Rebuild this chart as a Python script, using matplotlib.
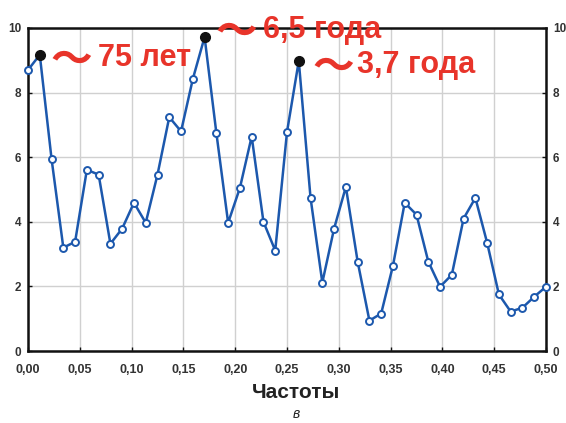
import numpy as np
import matplotlib
matplotlib.use("Agg")
import matplotlib.pyplot as plt
from matplotlib.ticker import FuncFormatter

# ---- data ----
n_points = 45
freq_max = 0.5
power = [8.70, 9.17, 5.95, 3.20, 3.38, 5.61, 5.46, 3.32, 3.79, 4.59,
         3.97, 5.46, 7.24, 6.80, 8.42, 9.72, 6.75, 3.97, 5.05, 6.64,
         4.00, 3.11, 6.78, 8.98, 4.74, 2.12, 3.79, 5.08, 2.77, 0.94,
         1.16, 2.64, 4.59, 4.22, 2.77, 1.99, 2.36, 4.10, 4.74, 3.35,
         1.75, 1.22, 1.34, 1.68, 1.99]
freqs = [k * freq_max / (n_points - 1) for k in range(n_points)]
peak_idx = [1, 15, 23]
peak_labels = ["75 лет", "6,5 года", "3,7 года"]
xticks = [0.0, 0.05, 0.10, 0.15, 0.20, 0.25, 0.30, 0.35, 0.40, 0.45, 0.50]
yticks = [0, 2, 4, 6, 8, 10]

blue = "#1c58ad"
red = "#e8342a"

fig = plt.figure(figsize=(5.66, 4.23), dpi=100)
ax = fig.add_axes([28/566, 1-351/423, (546-28)/566, (351-28)/423])

ax.plot(freqs, power, color=blue, lw=1.8, marker="o", ms=5,
        mfc="white", mec=blue, mew=1.4, zorder=3, clip_on=False)
px = [freqs[i] for i in peak_idx]
py = [power[i] for i in peak_idx]
ax.plot(px, py, "o", ms=7, color="#111111", zorder=4, clip_on=False)

ax.set_xlim(0, 0.5)
ax.set_ylim(0, 10)
ax.set_xticks(xticks)
ax.set_yticks(yticks)
ax.xaxis.set_major_formatter(FuncFormatter(lambda v, p: f"{v:.2f}".replace(".", ",")))
ax.grid(True, color="#d0d0d0", lw=1.0)
ax.set_axisbelow(True)
for s in ax.spines.values():
    s.set_linewidth(1.8)
    s.set_color("#111111")
ax.tick_params(axis="both", direction="in", length=3, width=1,
               labelsize=9, colors="#111111")
ax.tick_params(axis="x", pad=9)
ax.tick_params(axis="y", left=True, right=True, labelleft=True, labelright=True,
               pad=5, labelsize=8.5)
for lab in ax.get_xticklabels() + ax.get_yticklabels():
    lab.set_fontweight("bold")
    lab.set_family("Liberation Sans")
    lab.set_color("#333333")

fig.text(296/566, 1-392/423, "Частоты", ha="center", va="center", fontsize=15,
         fontweight="bold", family="Liberation Sans", color="#222222")
fig.text(296/566, 1-414/423, "в", ha="center", va="center", fontsize=10,
         style="italic", family="Liberation Sans", color="#222222")

tilde_offsets = [(23, -4), (23, 3), (25, -5)]
text_offsets = [(42, -2), (42, 5), (42, -3)]
for (x, y), lab, toff, loff in zip(zip(px, py), peak_labels, tilde_offsets, text_offsets):
    ax.annotate("〜", (x, y), xytext=toff, textcoords="offset points",
                ha="center", va="center", fontsize=30, fontweight="bold",
                color=red, family=["Noto Sans CJK JP", "DejaVu Sans"],
                annotation_clip=False, zorder=5)
    ax.annotate(lab, (x, y), xytext=loff, textcoords="offset points",
                ha="left", va="center", fontsize=22, fontweight="bold",
                color=red, family="Liberation Sans",
                annotation_clip=False, zorder=5)

fig.savefig("out.png", dpi=100)
